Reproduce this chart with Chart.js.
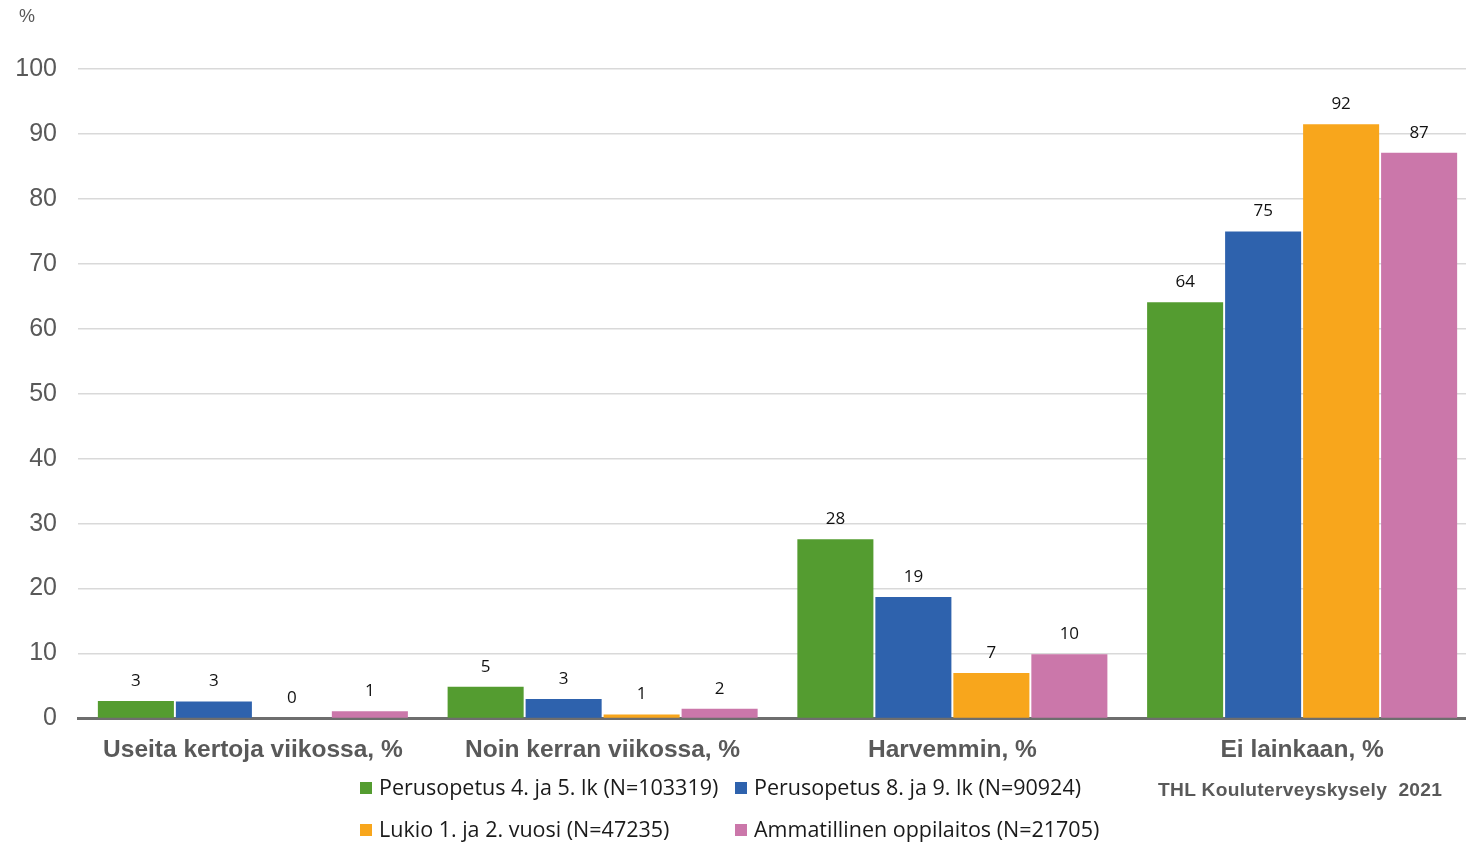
<!DOCTYPE html>
<html>
<head>
<meta charset="utf-8">
<script src="https://cdn.jsdelivr.net/npm/chart.js@4/dist/chart.umd.min.js"></script>
<style>
  html, body { margin: 0; padding: 0; width: 1466px; height: 842px; overflow: hidden; background: #fff; }
  #wrap { position: relative; width: 1466px; height: 842px; overflow: hidden; }
  canvas { position: absolute; left: 0; top: 0; }
  .txt { position: absolute; white-space: nowrap; }
  .unit { left: 19px; top: 6px; font: 18px "Liberation Sans", Arial, sans-serif; color: #595959; }
  .src { left: 1158px; top: 779px; font: bold 19.2px "Liberation Sans", Arial, sans-serif; color: #595959; letter-spacing: 0.3px; }
  .leg { font: 21.5px "Open Sans", Lato, sans-serif; color: #1a1a1a; line-height: 24px; }
  .leg i { display: inline-block; width: 12px; height: 12px; margin-right: 7px; vertical-align: 1px; }
</style>
</head>
<body>
<div id="wrap">
  <canvas id="c" width="1480" height="842"></canvas>
  <div class="txt unit">%</div>
  <div class="txt src">THL Kouluterveyskysely&nbsp; 2021</div>
  <div id="legend"></div>
</div>
<script>
const categories = ["Useita kertoja viikossa, %", "Noin kerran viikossa, %", "Harvemmin, %", "Ei lainkaan, %"];
const seriesNames = [
  "Perusopetus 4. ja 5. lk (N=103319)",
  "Perusopetus 8. ja 9. lk (N=90924)",
  "Lukio 1. ja 2. vuosi (N=47235)",
  "Ammatillinen oppilaitos (N=21705)"
];
const perus45 = [2.7, 4.9, 27.6, 64.1];
const perus89 = [2.6, 3.0, 18.7, 75.0];
const lukio = [0.0, 0.6, 7.0, 91.5];
const ammatillinen = [1.1, 1.5, 9.9, 87.1];
const colors = ["#549C30", "#2E62AD", "#F8A61C", "#CB77AA"];
const yTicks = [0, 10, 20, 30, 40, 50, 60, 70, 80, 90, 100];

const seriesValues = [perus45, perus89, lukio, ammatillinen];

// HTML legend (two aligned columns)
const legendPos = [[360, 775], [735, 775], [360, 817], [735, 817]];
const legendEl = document.getElementById('legend');
seriesNames.forEach((name, i) => {
  const d = document.createElement('div');
  d.className = 'txt leg';
  d.style.left = legendPos[i][0] + 'px';
  d.style.top = legendPos[i][1] + 'px';
  d.innerHTML = '<i style="background:' + colors[i] + '"></i>';
  d.appendChild(document.createTextNode(name));
  legendEl.appendChild(d);
});

const valueLabels = {
  id: 'valueLabels',
  afterDatasetsDraw(chart) {
    const ctx = chart.ctx;
    ctx.save();
    ctx.font = '17px "Open Sans", Lato, sans-serif';
    ctx.fillStyle = '#111';
    ctx.textAlign = 'center';
    ctx.textBaseline = 'middle';
    chart.data.datasets.forEach((ds, di) => {
      const meta = chart.getDatasetMeta(di);
      meta.data.forEach((el, i) => {
        ctx.fillText(String(Math.round(ds.data[i])), el.x, el.y - 20);
      });
    });
    ctx.restore();
  }
};

new Chart(document.getElementById('c'), {
  type: 'bar',
  data: {
    labels: categories,
    datasets: seriesValues.map((vals, i) => ({
      label: seriesNames[i],
      data: vals,
      backgroundColor: colors[i],
      borderWidth: 0,
      categoryPercentage: 0.892,
      barPercentage: 0.975
    }))
  },
  options: {
    responsive: false,
    animation: false,
    devicePixelRatio: 1,
    layout: { padding: { left: 0, right: 3, top: 69, bottom: 0 } },
    plugins: { legend: { display: false }, tooltip: { enabled: false } },
    scales: {
      x: {
        grid: { display: false, drawTicks: false },
        border: { display: true, color: '#6e6e6e', width: 3 },
        ticks: {
          padding: 17,
          color: '#595959',
          font: { family: '"Liberation Sans", Arial, sans-serif', size: 24.5, weight: 'bold' }
        },
        afterFit(scale) { scale.height = 123.5; }
      },
      y: {
        min: 0,
        max: 100,
        afterBuildTicks(scale) { scale.ticks = yTicks.map(v => ({ value: v })); },
        grid: {
          drawTicks: false,
          color: (c) => c.tick && c.tick.value === 0 ? 'rgba(0,0,0,0)' : '#d9d9d9',
          lineWidth: 1.5
        },
        border: { display: false },
        ticks: {
          padding: 21,
          color: '#595959',
          font: { family: '"Liberation Sans", Arial, sans-serif', size: 25 }
        },
        afterFit(scale) { scale.width = 78; }
      }
    }
  },
  plugins: [valueLabels]
});
</script>
</body>
</html>
